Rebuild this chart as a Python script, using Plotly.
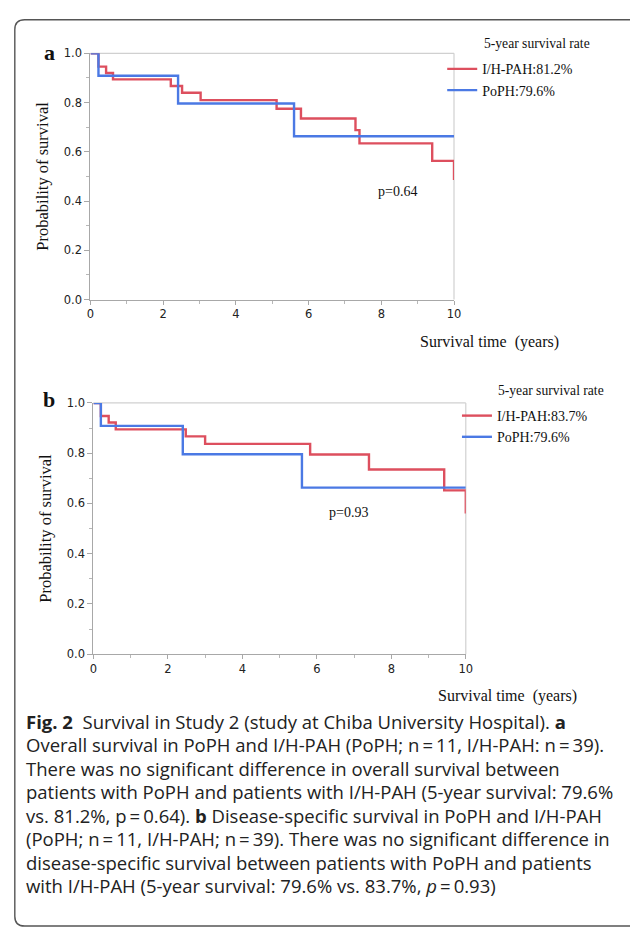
import plotly.graph_objects as go

W, H = 630, 933

# ---------------- data ----------------
# Panel a: overall survival
a_ihpah_t = [0, 0.22, 0.43, 0.62, 2.21, 2.52, 3.03, 5.12, 5.79, 7.29, 7.40, 9.40, 10.0, 10.0]
a_ihpah_s = [1.0, 0.946, 0.920, 0.894, 0.867, 0.840, 0.810, 0.775, 0.735, 0.688, 0.634, 0.563, 0.563, 0.485]
a_poph_t = [0, 0.22, 2.41, 5.60, 10.0]
a_poph_s = [1.0, 0.909, 0.796, 0.663, 0.663]

# Panel b: disease-specific survival
b_ihpah_t = [0, 0.20, 0.41, 0.60, 2.48, 3.00, 5.82, 7.40, 9.42, 10.0, 10.0]
b_ihpah_s = [1.0, 0.948, 0.922, 0.895, 0.867, 0.837, 0.795, 0.735, 0.652, 0.652, 0.560]
b_poph_t = [0, 0.20, 2.40, 5.60, 10.0]
b_poph_s = [1.0, 0.909, 0.796, 0.663, 0.663]

legend_a = ["I/H-PAH:81.2%", "PoPH:79.6%"]
legend_b = ["I/H-PAH:83.7%", "PoPH:79.6%"]
legend_title = "5-year survival rate"
p_a = "p=0.64"
p_b = "p=0.93"
y_title = "Probability of survival"
x_title = "Survival time \u00a0(years)"

caption_lines = [
    "<b>Fig. 2</b>\u00a0 Survival in Study 2 (study at Chiba University Hospital). <b>a</b>",
    "Overall survival in PoPH and I/H-PAH (PoPH; n\u2009=\u200911, I/H-PAH: n\u2009=\u200939).",
    "There was no significant difference in overall survival between",
    "patients with PoPH and patients with I/H-PAH (5-year survival: 79.6%",
    "vs. 81.2%, p\u2009=\u20090.64). <b>b</b> Disease-specific survival in PoPH and I/H-PAH",
    "(PoPH; n\u2009=\u200911, I/H-PAH; n\u2009=\u200939). There was no significant difference in",
    "disease-specific survival between patients with PoPH and patients",
    "with I/H-PAH (5-year survival: 79.6% vs. 83.7%, <i>p</i>\u2009=\u20090.93)",
]

RED = "#dd4f5e"
BLUE = "#4b79e4"
SERIF = "Liberation Serif"
TICKF = "DejaVu Sans"
CAPF = "Open Sans"

def px(x):
    return x / W

def py(y):
    return 1 - y / H

fig = go.Figure()

fig.add_trace(go.Scatter(x=a_ihpah_t, y=a_ihpah_s, mode="lines", line=dict(shape="hv", color=RED, width=2.4),
                         name=legend_a[0], xaxis="x", yaxis="y", legend="legend"))
fig.add_trace(go.Scatter(x=a_poph_t, y=a_poph_s, mode="lines", line=dict(shape="hv", color=BLUE, width=2.4),
                         name=legend_a[1], xaxis="x", yaxis="y", legend="legend"))
fig.add_trace(go.Scatter(x=b_ihpah_t, y=b_ihpah_s, mode="lines", line=dict(shape="hv", color=RED, width=2.4),
                         name=legend_b[0], xaxis="x2", yaxis="y2", legend="legend2"))
fig.add_trace(go.Scatter(x=b_poph_t, y=b_poph_s, mode="lines", line=dict(shape="hv", color=BLUE, width=2.4),
                         name=legend_b[1], xaxis="x2", yaxis="y2", legend="legend2"))

def xax(domain, anchor):
    return dict(domain=domain, anchor=anchor, range=[0, 10], dtick=2, tick0=0,
                showgrid=False, zeroline=False, showline=True, linecolor="#a8a8a8", linewidth=1.2,
                ticks="outside", ticklen=4, tickcolor="#a8a8a8",
                minor=dict(dtick=1, ticks="outside", ticklen=3, tickcolor="#b8b8b8"),
                tickfont=dict(family=TICKF, size=11.5, color="#222"), fixedrange=True)

def yax(domain, anchor):
    return dict(domain=domain, anchor=anchor, range=[0, 1.0], dtick=0.2, tick0=0, tickformat=".1f",
                showgrid=False, zeroline=False, showline=True, linecolor="#a8a8a8", linewidth=1.2,
                ticks="outside", ticklen=5, tickcolor="#a8a8a8",
                minor=dict(dtick=0.1, ticks="outside", ticklen=3, tickcolor="#b8b8b8"),
                tickfont=dict(family=TICKF, size=11.5, color="#222"),
                title=dict(text=y_title, font=dict(family=SERIF, size=16.5, color="#111"), standoff=10),
                fixedrange=True)

A = dict(x0=88, x1=458, y0=47, y1=297)
B = dict(x0=91, x1=470, y0=402, y1=657)

layout = dict(
    width=W, height=H, margin=dict(l=0, r=0, t=0, b=0),
    paper_bgcolor="white", plot_bgcolor="white", showlegend=True,
    xaxis=xax([px(A["x0"]), px(A["x1"])], "y"),
    yaxis=yax([py(A["y1"]), py(A["y0"])], "x"),
    xaxis2=xax([px(B["x0"]), px(B["x1"])], "y2"),
    yaxis2=yax([py(B["y1"]), py(B["y0"])], "x2"),
    legend=dict(x=px(446), y=py(47), xanchor="left", yanchor="top", bgcolor="rgba(0,0,0,0)",
                font=dict(family=SERIF, size=14, color="#111"), tracegroupgap=0, itemwidth=30),
    legend2=dict(x=px(461), y=py(399), xanchor="left", yanchor="top", bgcolor="rgba(0,0,0,0)",
                 font=dict(family=SERIF, size=14, color="#111"), tracegroupgap=0, itemwidth=30),
)
fig.update_layout(**layout)

ann = []
ann.append(dict(text=legend_title, x=px(486), y=py(37), xref="paper", yref="paper", xanchor="left", yanchor="middle",
                showarrow=False, font=dict(family=SERIF, size=13.6, color="#111")))
ann.append(dict(text=legend_title, x=px(501), y=py(389), xref="paper", yref="paper", xanchor="left", yanchor="middle",
                showarrow=False, font=dict(family=SERIF, size=13.6, color="#111")))
ann.append(dict(text="<b>a</b>", x=px(46), y=py(46), xref="paper", yref="paper", xanchor="center", yanchor="middle",
                showarrow=False, font=dict(family=SERIF, size=22, color="#111")))
ann.append(dict(text="<b>b</b>", x=px(46), y=py(398), xref="paper", yref="paper", xanchor="center", yanchor="middle",
                showarrow=False, font=dict(family=SERIF, size=22, color="#111")))
ann.append(dict(text=p_a, x=px(400), y=py(187), xref="paper", yref="paper", xanchor="center", yanchor="middle",
                showarrow=False, font=dict(family=SERIF, size=14, color="#111")))
ann.append(dict(text=p_b, x=px(351), y=py(513), xref="paper", yref="paper", xanchor="center", yanchor="middle",
                showarrow=False, font=dict(family=SERIF, size=14, color="#111")))
ann.append(dict(text=x_title, x=px(567), y=py(340), xref="paper", yref="paper", xanchor="right", yanchor="middle",
                showarrow=False, font=dict(family=SERIF, size=16, color="#111")))
ann.append(dict(text=x_title, x=px(585), y=py(700), xref="paper", yref="paper", xanchor="right", yanchor="middle",
                showarrow=False, font=dict(family=SERIF, size=16, color="#111")))
for i, line in enumerate(caption_lines):
    ann.append(dict(text=line, x=px(20), y=py(725 + 23.9 * i), xref="paper", yref="paper", xanchor="left",
                    yanchor="middle", showarrow=False, align="left",
                    font=dict(family=CAPF, size=18.5, color="#222")))
fig.update_layout(annotations=ann)

shapes = []
for xr, yr in (("x", "y"), ("x2", "y2")):
    shapes.append(dict(type="line", xref=f"{xr} domain", yref=f"{yr} domain", x0=0, x1=1, y0=1, y1=1,
                       line=dict(color="#d0d0d0", width=1.2), layer="below"))
    shapes.append(dict(type="line", xref=f"{xr} domain", yref=f"{yr} domain", x0=1, x1=1, y0=0, y1=1,
                       line=dict(color="#d0d0d0", width=1.2), layer="below"))
r = 10
path = (f"M {px(645)},{py(13)} L {px(11 + r)},{py(13)} Q {px(11)},{py(13)} {px(11)},{py(13 + r)} "
        f"L {px(11)},{py(923)} Q {px(11)},{py(933)} {px(11 + r)},{py(933)} L {px(645)},{py(933)}")
shapes.append(dict(type="path", xref="paper", yref="paper", path=path, line=dict(color="#555", width=1.4)))
fig.update_layout(shapes=shapes)

fig.write_html("out.html", config={"displayModeBar": False},
               post_script="document.body.style.margin='0';document.body.style.overflow='hidden';")
